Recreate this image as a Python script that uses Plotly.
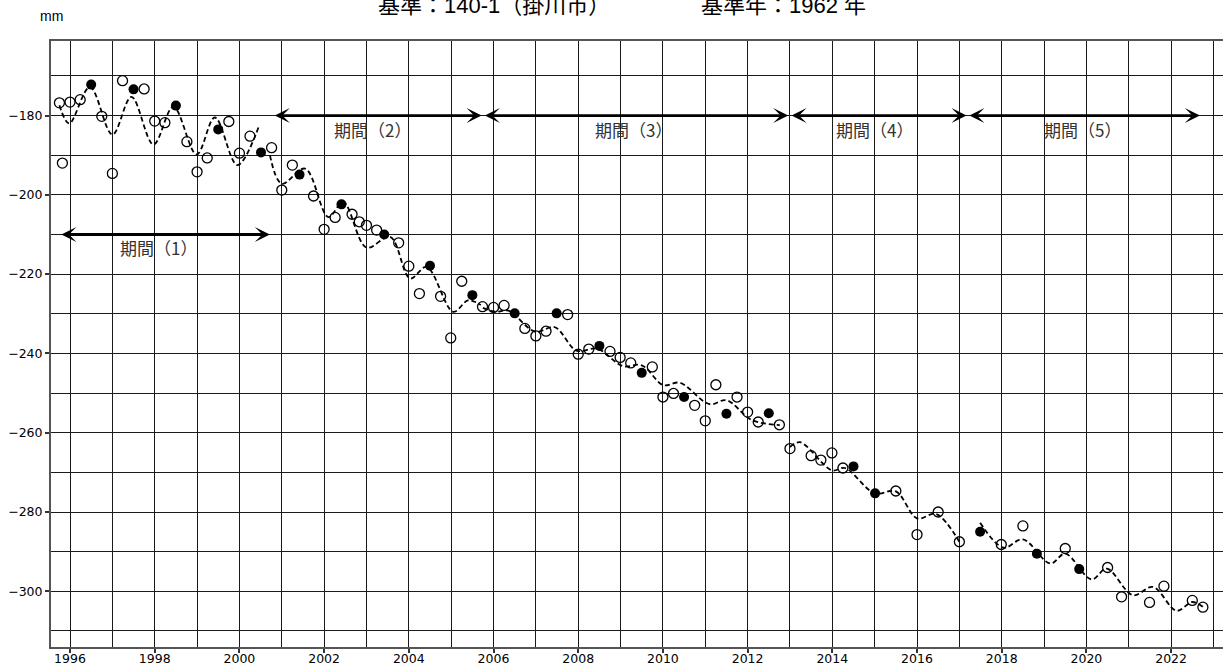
import plotly.graph_objects as go

# ---------------- data ----------------
open_years = [1995.75, 1995.82, 1996.0, 1996.24, 1996.75, 1997.0, 1997.24, 1997.75, 1998.0, 1998.24,
              1998.76, 1999.0, 1999.24, 1999.75, 2000.0, 2000.25, 2000.76, 2001.0, 2001.25, 2001.75,
              2002.0, 2002.26, 2002.66, 2002.83, 2003.0, 2003.24, 2003.76, 2004.0, 2004.25, 2004.75,
              2004.99, 2005.25, 2005.74, 2006.0, 2006.25, 2006.74, 2007.0, 2007.24, 2007.75, 2008.0,
              2008.25, 2008.75, 2008.99, 2009.24, 2009.75, 2010.0, 2010.25, 2010.75, 2011.0, 2011.25,
              2011.75, 2012.0, 2012.25, 2012.75, 2013.0, 2013.5, 2013.73, 2013.99, 2014.25, 2015.5,
              2016.0, 2016.5, 2017.0, 2017.99, 2018.5, 2019.5, 2020.5, 2020.83, 2021.49, 2021.83,
              2022.5, 2022.75]
open_values = [-176.8, -192.0, -176.6, -176.0, -180.2, -194.6, -171.2, -173.3, -181.4, -181.8,
               -186.6, -194.2, -190.7, -181.5, -189.5, -185.2, -188.1, -198.8, -192.5, -200.3,
               -208.7, -205.7, -204.9, -206.8, -207.7, -208.9, -212.1, -218.0, -224.9, -225.6,
               -236.1, -221.8, -228.2, -228.4, -227.9, -233.7, -235.6, -234.4, -230.2, -240.2,
               -238.9, -239.5, -241.0, -242.4, -243.4, -251.0, -250.1, -253.1, -257.0, -247.9,
               -251.0, -254.8, -257.3, -258.0, -264.0, -265.8, -266.9, -265.1, -268.9, -274.7,
               -285.7, -280.0, -287.5, -288.2, -283.5, -289.2, -294.0, -301.4, -302.8, -298.7,
               -302.3, -304.0]

filled_years = [1996.5, 1997.5, 1998.5, 1999.5, 2000.51, 2001.42, 2002.41, 2003.42, 2004.5, 2005.5,
                2006.5, 2007.49, 2008.5, 2009.5, 2010.5, 2011.5, 2012.5, 2014.5, 2015.01, 2017.49,
                2018.83, 2019.83]
filled_values = [-172.2, -173.4, -177.5, -183.5, -189.3, -194.9, -202.4, -210.0, -217.9, -225.3,
                 -229.9, -229.9, -238.1, -244.9, -251.0, -255.2, -255.1, -268.5, -275.3, -285.0,
                 -290.5, -294.4]

# fitted seasonal curve, one run per period (None separates periods)
curve_years = [1995.75, 1995.98, 1996.47, 1997.0, 1997.45, 1997.97, 1998.44, 1998.99, 1999.42, 1999.95, 2000.45,
               None,
               2000.72, 2001.0, 2001.55, 2002.1, 2002.45, 2003.0, 2003.56, 2004.03, 2004.42, 2005.05, 2005.4, 2005.7,
               None,
               2005.75, 2006.05, 2006.35, 2006.98, 2007.45, 2007.96, 2008.45, 2009.05, 2009.5, 2010.01, 2010.4,
               2011.1, 2011.5, 2012.1, 2012.76,
               None,
               2013.0, 2013.24, 2013.99, 2014.3, 2015.0, 2015.5, 2016.0, 2016.45, 2017.0,
               None,
               2017.49, 2018.04, 2018.5, 2019.15, 2019.5, 2020.12, 2020.48, 2021.1, 2021.57, 2022.13, 2022.5, 2022.76]
curve_values = [-177.4, -182.0, -172.8, -184.8, -175.3, -187.3, -177.8, -189.8, -180.5, -192.5, -183.0,
                None,
                -190.0, -197.2, -193.4, -205.6, -201.8, -213.3, -210.6, -221.1, -218.2, -229.5, -226.6, -227.8,
                None,
                -228.5, -229.5, -229.2, -234.5, -233.4, -239.3, -238.8, -243.2, -243.0, -248.0, -247.4,
                -252.8, -251.8, -256.8, -258.1,
                None,
                -263.6, -262.4, -269.5, -268.9, -275.3, -274.8, -281.6, -280.5, -287.5,
                None,
                -282.7, -289.0, -286.9, -293.0, -290.5, -297.0, -294.3, -301.0, -298.9, -304.9, -302.7, -304.0]

period_labels = ["期間（1）", "期間（2）", "期間（3）", "期間（4）", "期間（5）"]
period_start = [1995.76, 2000.80, 2005.76, 2013.00, 2017.20]
period_end = [2000.72, 2005.72, 2012.96, 2017.17, 2022.68]
period_level = [-210, -180, -180, -180, -180]
period_label_x = [1998.1, 2003.15, 2009.3, 2015.0, 2019.9]
period_label_y = [-213.4, -183.5, -183.5, -183.5, -183.5]

x_label_years = list(range(1996, 2023, 2))
x_label_text = [str(y) for y in x_label_years]
x_grid_years = list(range(1996, 2024))
y_label_vals = [-300, -280, -260, -240, -220, -200, -180]
y_label_text = ["−300", "−280", "−260", "−240", "−220", "−200", "−180"]
y_grid_vals = list(range(-310, -169, 10))

title_left = "基準：140-1（掛川市）"
title_right = "基準年：1962 年"
unit_text = "mm"

# ---------------- figure ----------------
W, H = 1223, 666
ML, MR, MT, MB = 51, 0, 41, 19
PW = W - ML - MR

fig = go.Figure()

fig.add_trace(go.Scatter(
    x=open_years, y=open_values, mode="markers",
    marker=dict(symbol="circle-open", size=10, color="black", line=dict(width=1.3, color="black")),
    showlegend=False, hoverinfo="skip"))

fig.add_trace(go.Scatter(
    x=filled_years, y=filled_values, mode="markers",
    marker=dict(symbol="circle", size=10, color="black"),
    showlegend=False, hoverinfo="skip"))

fig.add_trace(go.Scatter(
    x=curve_years, y=curve_values, mode="lines", connectgaps=False,
    line=dict(color="black", width=1.8, dash="5px,3px", shape="spline", smoothing=1.0),
    showlegend=False, hoverinfo="skip"))

annotations = []
for s, e, lv in zip(period_start, period_end, period_level):
    annotations.append(dict(
        x=e, y=lv, ax=s, ay=lv, xref="x", yref="y", axref="x", ayref="y",
        text="", showarrow=True, arrowside="end+start",
        arrowhead=3, startarrowhead=3, arrowsize=0.9, startarrowsize=0.9,
        arrowwidth=2.8, arrowcolor="black", standoff=0, startstandoff=0))
for lab, lx, ly in zip(period_labels, period_label_x, period_label_y):
    annotations.append(dict(
        x=lx, y=ly, xref="x", yref="y", text=lab, showarrow=False,
        font=dict(family="Noto Sans CJK JP", size=17, color="#333333"),
        xanchor="center", yanchor="middle"))

title_font = dict(family="Liberation Sans, Noto Sans CJK JP", size=22, color="black")
annotations.append(dict(
    x=(494 - ML) / PW, y=1, xref="paper", yref="paper", yshift=36, text=title_left, showarrow=False,
    font=title_font, xanchor="center", yanchor="middle"))
annotations.append(dict(
    x=(783 - ML) / PW, y=1, xref="paper", yref="paper", yshift=36, text=title_right, showarrow=False,
    font=title_font, xanchor="center", yanchor="middle"))
annotations.append(dict(
    x=0, y=1, xref="paper", yref="paper", yshift=25, text=unit_text, showarrow=False,
    font=dict(family="Liberation Sans, DejaVu Sans", size=14, color="black"),
    xanchor="center", yanchor="middle"))

grid_color = "#1a1a1a"
axis_common = dict(
    tickmode="array", ticks="outside", ticklen=4, tickcolor="#333", tickwidth=1.5,
    showgrid=True, gridcolor=grid_color, gridwidth=1,
    showline=True, linecolor="#555", linewidth=2, mirror=True,
    tickfont=dict(family="DejaVu Sans", size=12.5, color="black"),
    zeroline=False, automargin=False)

fig.update_layout(
    width=W, height=H,
    margin=dict(l=ML, r=MR, t=MT, b=MB, autoexpand=False),
    paper_bgcolor="white", plot_bgcolor="white",
    annotations=annotations,
    xaxis=dict(
        range=[1995.551, 2023.225], tickvals=x_label_years, ticktext=x_label_text,
        minor=dict(tickvals=x_grid_years, showgrid=True, gridcolor=grid_color, gridwidth=1, ticks=""),
        ticklabelstandoff=-5,
        **axis_common),
    yaxis=dict(
        range=[-314.05, -161.2], tickvals=y_label_vals, ticktext=y_label_text,
        minor=dict(tickvals=y_grid_vals, showgrid=True, gridcolor=grid_color, gridwidth=1, ticks=""),
        **axis_common),
)

fig.write_html("out.html", config={"displayModeBar": False},
               post_script="document.body.style.margin='0';")
